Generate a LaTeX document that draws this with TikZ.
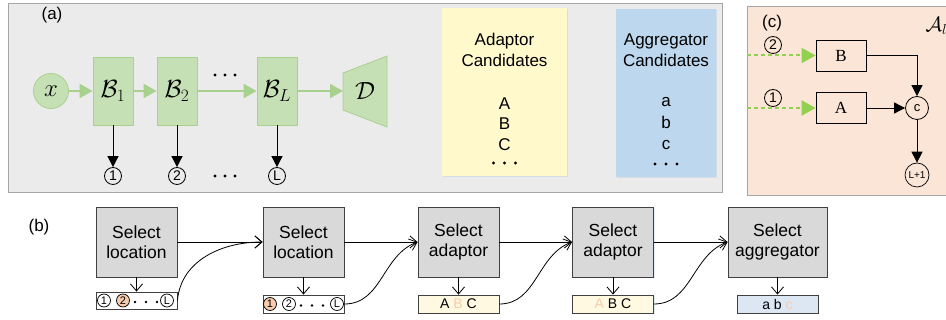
\documentclass[tikz,border=0pt]{standalone}
\usepackage{fontspec}
\setmainfont{Liberation Sans}
\newfontfamily\romanfont{Liberation Serif}
\usetikzlibrary{arrows.meta,positioning,shadows}

\definecolor{panelgray}{HTML}{EBEBEB}
\definecolor{panelline}{HTML}{A6A6A6}
\definecolor{blockgreen}{HTML}{C5E0B4}
\definecolor{arrowgreen}{HTML}{A9D18E}
\definecolor{dashgreen}{HTML}{92D050}
\definecolor{candyellow}{HTML}{FFF9CC}
\definecolor{candblue}{HTML}{BDD7EE}
\definecolor{panelorange}{HTML}{FBE5D6}
\definecolor{pickorange}{HTML}{F8CBAD}
\definecolor{selgray}{HTML}{D9D9D9}
\definecolor{boxline}{HTML}{404040}
\definecolor{listyellow}{HTML}{FFF9E1}
\definecolor{listblue}{HTML}{DDE7F4}
\definecolor{shade}{HTML}{9DB4D0}

\tikzset{
  soft/.style={drop shadow={shadow xshift=1pt, shadow yshift=-1.5pt, fill=shade, opacity=0.25}},
  greenblock/.style={fill=blockgreen, draw=arrowgreen, line width=0.8pt, minimum width=40pt, minimum height=68pt, inner sep=0pt, font=\fontsize{27}{27}\selectfont},
  greenarrow/.style={draw=arrowgreen, line width=2pt, -{Triangle[length=13pt,width=14pt]}, arrowgreen},
  dasharrow/.style={draw=dashgreen, line width=2pt, dash pattern=on 4pt off 3pt, -{Triangle[length=14pt,width=15pt]}, dashgreen},
  outarrow/.style={line width=0.8pt, -{Triangle[length=11pt,width=11pt]}},
  bigpin/.style={circle, draw, line width=0.8pt, inner sep=0pt, minimum size=17pt, font=\fontsize{14}{14}\selectfont},
  smallpin/.style={circle, draw, line width=0.7pt, inner sep=0pt, minimum size=13pt, font=\fontsize{11}{11}\selectfont},
  selectbox/.style={soft, fill=selgray, draw=boxline, line width=0.9pt, minimum width=81pt, minimum height=70pt, inner sep=0pt, align=center, font=\fontsize{17.5}{20.5}\selectfont},
  listbox/.style={soft, draw=boxline, line width=0.9pt, minimum width=81pt, minimum height=18pt, inner sep=0pt, font=\fontsize{14}{14}\selectfont},
  barb/.style={line width=0.8pt, -{Straight Barb[length=7pt,width=12pt]}},
  label/.style={font=\fontsize{17}{17}\selectfont},
}

\begin{document}
\begin{tikzpicture}[x=1pt, y=-1pt]
\useasboundingbox (0,0) rectangle (946,320);

\def\ya{91}   % main line of (a)
\def\yo{176}  % outputs of (a)
\def\ys{242}  % select boxes
\def\yl{304}  % lists

% (a)
\filldraw[soft, fill=panelgray, draw=panelline, line width=0.8pt] (8,3) rectangle (722,192);
\node[label] at (52,15) {(a)};

\node[circle, fill=blockgreen, draw=arrowgreen, line width=0.8pt, minimum size=35pt, inner sep=0pt, font=\fontsize{27}{27}\selectfont] (x) at (51,\ya) {$x$};
\node[greenblock] (b1) at (113,\ya) {$\mathcal{B}_1$};
\node[greenblock] (b2) at (177,\ya) {$\mathcal{B}_2$};
\node[greenblock] (bl) at (277,\ya) {$\mathcal{B}_L$};

\filldraw[fill=blockgreen, draw=arrowgreen, line width=0.8pt] (343,73) -- (387,56) -- (387,127) -- (343,110) -- cycle;
\coordinate (dl) at (343,\ya);
\node[font=\fontsize{27}{27}\selectfont] (d) at (365,\ya) {$\mathcal{D}$};

\draw[greenarrow] (x) -- (b1);
\draw[greenarrow] (b1) -- (b2);
\draw[greenarrow] (b2) -- (bl);
\draw[greenarrow] (bl) -- (dl);

\node[bigpin] (o1) at (113,\yo) {1};
\node[bigpin] (o2) at (177,\yo) {2};
\node[bigpin] (ol) at (277,\yo) {L};
\draw[outarrow] (b1) -- (o1);
\draw[outarrow] (b2) -- (o2);
\draw[outarrow] (bl) -- (ol);

\foreach \i in {0,1,2} {
  \fill (215+10*\i,75) circle (1.7);
  \fill (215+10*\i,\yo) circle (1.7);
}

\fill[soft, candyellow] (442,8) rectangle (567,176);
\node[align=center, font=\fontsize{17}{21}\selectfont] (adhead) at (504.5,49.5) {Adaptor\\Candidates};
\node[align=center, font=\fontsize{17}{20.5}\selectfont] (aditems) at (504.5,124) {A\\B\\C};
\fill[soft, candblue] (616,9) rectangle (716,177);
\node[align=center, font=\fontsize{17}{21}\selectfont] (aghead) at (666,50.5) {Aggregator\\Candidates};
\node[align=center, font=\fontsize{17}{21.5}\selectfont] (agitems) at (666,124) {a\\b\\c};
\foreach \i in {-1,0,1} {
  \fill (504.5+11*\i,163) circle (1.7);
  \fill (666+11*\i,164) circle (1.7);
}

% (c)
\filldraw[soft, fill=panelorange, draw=panelline, line width=0.8pt] (747,6) rectangle (960,195);
\node[label] at (772,23) {(c)};
\node[anchor=west, font=\fontsize{20}{20}\selectfont] (al) at (922,26) {$\mathcal{A}_l$};

\node[draw, line width=0.8pt, minimum width=50pt, minimum height=31pt, font=\romanfont\fontsize{17}{17}\selectfont] (nb) at (841,55.5) {B};
\node[draw, line width=0.8pt, minimum width=50pt, minimum height=31pt, font=\romanfont\fontsize{17}{17}\selectfont] (na) at (841,108) {A};
\node[circle, draw, line width=0.8pt, minimum size=23pt, inner sep=0pt, font=\fontsize{13}{13}\selectfont] (nc) at (917,108) {c};
\node[circle, draw, line width=0.7pt, minimum size=24pt, inner sep=0pt, font=\fontsize{10}{10}\selectfont] (nl) at (917,175) {L+1};
\node[bigpin] (c2) at (773,45) {2};
\node[bigpin] (c1) at (773,98) {1};

\coordinate (inb) at (747,55.5);
\coordinate (ina) at (747,108);
\draw[dasharrow] (inb) -- (nb);
\draw[dasharrow] (ina) -- (na);
\draw[outarrow] (na) -- (nc);
\draw[outarrow] (nb) -| (nc);
\draw[outarrow] (nc) -- (nl);

% (b)
\node[label] at (39,227) {(b)};

\node[selectbox] (s1) at (136.5,\ys) {Select\\location};
\node[selectbox] (s2) at (303.5,\ys) {Select\\location};
\node[selectbox] (s3) at (458.5,\ys) {Select\\adaptor};
\node[selectbox] (s4) at (613,\ys) {Select\\adaptor};
\node[selectbox, minimum width=99pt] (s5) at (777.5,\ys) {Select\\aggregator};

\node[listbox, fill=white, minimum height=17pt] (l1) at (136.5,300.5) {};
\node[listbox, fill=white] (l2) at (303.5,\yl) {};
\node[listbox, fill=listyellow] (l3) at (458.5,\yl) {A {\color{pickorange}B} C};
\node[listbox, fill=listyellow] (l4) at (613,\yl) {{\color{pickorange}A} B C};
\node[listbox, fill=listblue] (l5) at (777.5,\yl) {a b {\color{pickorange}c}};

% picked locations
\node[smallpin] (p11) at (104,300.5) {1};
\node[smallpin, fill=pickorange] (p12) at (123,300.5) {2};
\node[smallpin] (p1l) at (167,300.5) {L};
\node[smallpin, fill=pickorange] (p21) at (270,\yl) {1};
\node[smallpin] (p22) at (289,\yl) {2};
\node[smallpin] (p2l) at (337,\yl) {L};
\foreach \i in {0,1,2} {
  \fill (135+11*\i,302) circle (1.3);
  \fill (301+11*\i,305.5) circle (1.3);
}

\foreach \n in {1,...,5} \draw[barb] (s\n) -- (l\n);
\draw[barb] (s1) -- (s2);
\draw[barb] (s2) -- (s3);
\draw[barb] (s3) -- (s4);
\draw[barb] (s4) -- (s5);
\draw[barb] (l1.east) to[out=85, in=180] (s2.west);
\draw[barb] (l2.east) to[out=0, in=200] (s3.west);
\draw[barb] (l3.east) to[out=0, in=200] (s4.west);
\draw[barb] (l4.east) to[out=0, in=200] (s5.west);

\end{tikzpicture}
\end{document}
